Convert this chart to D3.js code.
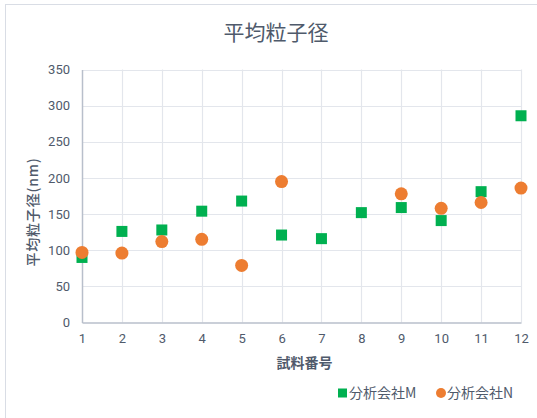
<!DOCTYPE html>
<html>
<head>
<meta charset="utf-8">
<script src="https://cdn.jsdelivr.net/npm/d3@7"></script>
<style>
  html, body { margin: 0; padding: 0; background: #fff; }
  svg { display: block; font-family: "Noto Sans CJK JP", "Noto Sans", sans-serif; }
</style>
</head>
<body>
<svg id="chart" width="537" height="418"></svg>
<script>
// Sample numbers and measured mean particle sizes (nm)
const samples = [1, 2, 3, 4, 5, 6, 7, 8, 9, 10, 11, 12];
const companyM = [90, 126, 128, 154, 168, 121, 116, 152, 159, 141, 181, 286];
const companyN = [97, 96, 112, 115, 79, 195, null, null, 178, 158, 166, 186];
const yTicks = [0, 50, 100, 150, 200, 250, 300, 350];
const seriesNames = ["分析会社M", "分析会社N"];
const seriesColors = ["#00b050", "#ed7d31"];

const svg = d3.select("#chart");
const textColor = "#4f5a6b";

// chart frame
svg.append("rect")
  .attr("x", 5.5).attr("y", 4.5)
  .attr("width", 540).attr("height", 420)
  .attr("fill", "#fff")
  .attr("stroke", "#d9dde5").attr("stroke-width", 1);

const plot = { left: 82, right: 521, top: 69.5, bottom: 322.5 };

const x = d3.scaleLinear().domain([1, 12]).range([plot.left, plot.right]);
const y = d3.scaleLinear().domain([0, 350]).range([plot.bottom, plot.top]);

// gridlines
svg.append("g")
  .selectAll("line.h")
  .data(yTicks.filter(d => d > 0))
  .join("line")
  .attr("x1", plot.left).attr("x2", plot.right)
  .attr("y1", d => Math.round(y(d)) + 0.5).attr("y2", d => Math.round(y(d)) + 0.5)
  .attr("stroke", "#e3e6ec").attr("stroke-width", 1.2);

svg.append("g")
  .selectAll("line.v")
  .data(samples.filter(d => d > 1))
  .join("line")
  .attr("x1", d => Math.round(x(d)) + 0.5).attr("x2", d => Math.round(x(d)) + 0.5)
  .attr("y1", plot.top).attr("y2", plot.bottom)
  .attr("stroke", "#e3e6ec").attr("stroke-width", 1.2);

// axes
const xAxis = d3.axisBottom(x).tickValues(samples).tickSize(0).tickPadding(11).tickFormat(d3.format("d"));
const yAxis = d3.axisLeft(y).tickValues(yTicks).tickSize(0).tickPadding(12);

const gx = svg.append("g").attr("transform", `translate(0,${plot.bottom})`).call(xAxis);
const gy = svg.append("g").attr("transform", `translate(${plot.left},0)`).call(yAxis);

[gx, gy].forEach(g => {
  g.select(".domain").attr("stroke", "#b8bfcb").attr("stroke-width", 1.5);
  g.selectAll("text")
    .attr("fill", textColor)
    .style("font-family", "Roboto, 'Noto Sans', sans-serif")
    .style("font-size", "13px");
});

// series M: squares
const sq = 11;
svg.append("g")
  .selectAll("rect")
  .data(samples.map((s, i) => ({ s, v: companyM[i] })).filter(d => d.v != null))
  .join("rect")
  .attr("x", d => x(d.s) - sq / 2)
  .attr("y", d => y(d.v) - sq / 2)
  .attr("width", sq).attr("height", sq)
  .attr("fill", seriesColors[0]);

// series N: circles
svg.append("g")
  .selectAll("circle")
  .data(samples.map((s, i) => ({ s, v: companyN[i] })).filter(d => d.v != null))
  .join("circle")
  .attr("cx", d => x(d.s))
  .attr("cy", d => y(d.v))
  .attr("r", 6.5)
  .attr("fill", seriesColors[1]);

// title
svg.append("text")
  .attr("x", 276).attr("y", 40)
  .attr("text-anchor", "middle")
  .attr("fill", textColor)
  .style("font-size", "21px")
  .text("平均粒子径");

// axis titles
svg.append("text")
  .attr("x", (plot.left + plot.right) / 2 + 3).attr("y", 368)
  .attr("text-anchor", "middle")
  .attr("fill", textColor)
  .style("font-size", "14px")
  .style("font-weight", "bold")
  .text("試料番号");

svg.append("text")
  .attr("transform", "translate(38,212) rotate(-90)")
  .attr("text-anchor", "middle")
  .attr("fill", textColor)
  .style("font-size", "14px")
  .style("font-weight", "500")
  .style("letter-spacing", "0.8px")
  .text("平均粒子径(nm)");

// legend
const legend = svg.append("g").attr("transform", "translate(0,393)");
legend.append("rect")
  .attr("x", 338).attr("y", -4.5).attr("width", 9).attr("height", 9)
  .attr("fill", seriesColors[0]);
legend.append("text")
  .attr("x", 349).attr("y", 5)
  .attr("fill", textColor).style("font-size", "14px")
  .text(seriesNames[0]);
legend.append("circle")
  .attr("cx", 441).attr("cy", 0).attr("r", 5)
  .attr("fill", seriesColors[1]);
legend.append("text")
  .attr("x", 447).attr("y", 5)
  .attr("fill", textColor).style("font-size", "14px")
  .text(seriesNames[1]);
</script>
</body>
</html>
